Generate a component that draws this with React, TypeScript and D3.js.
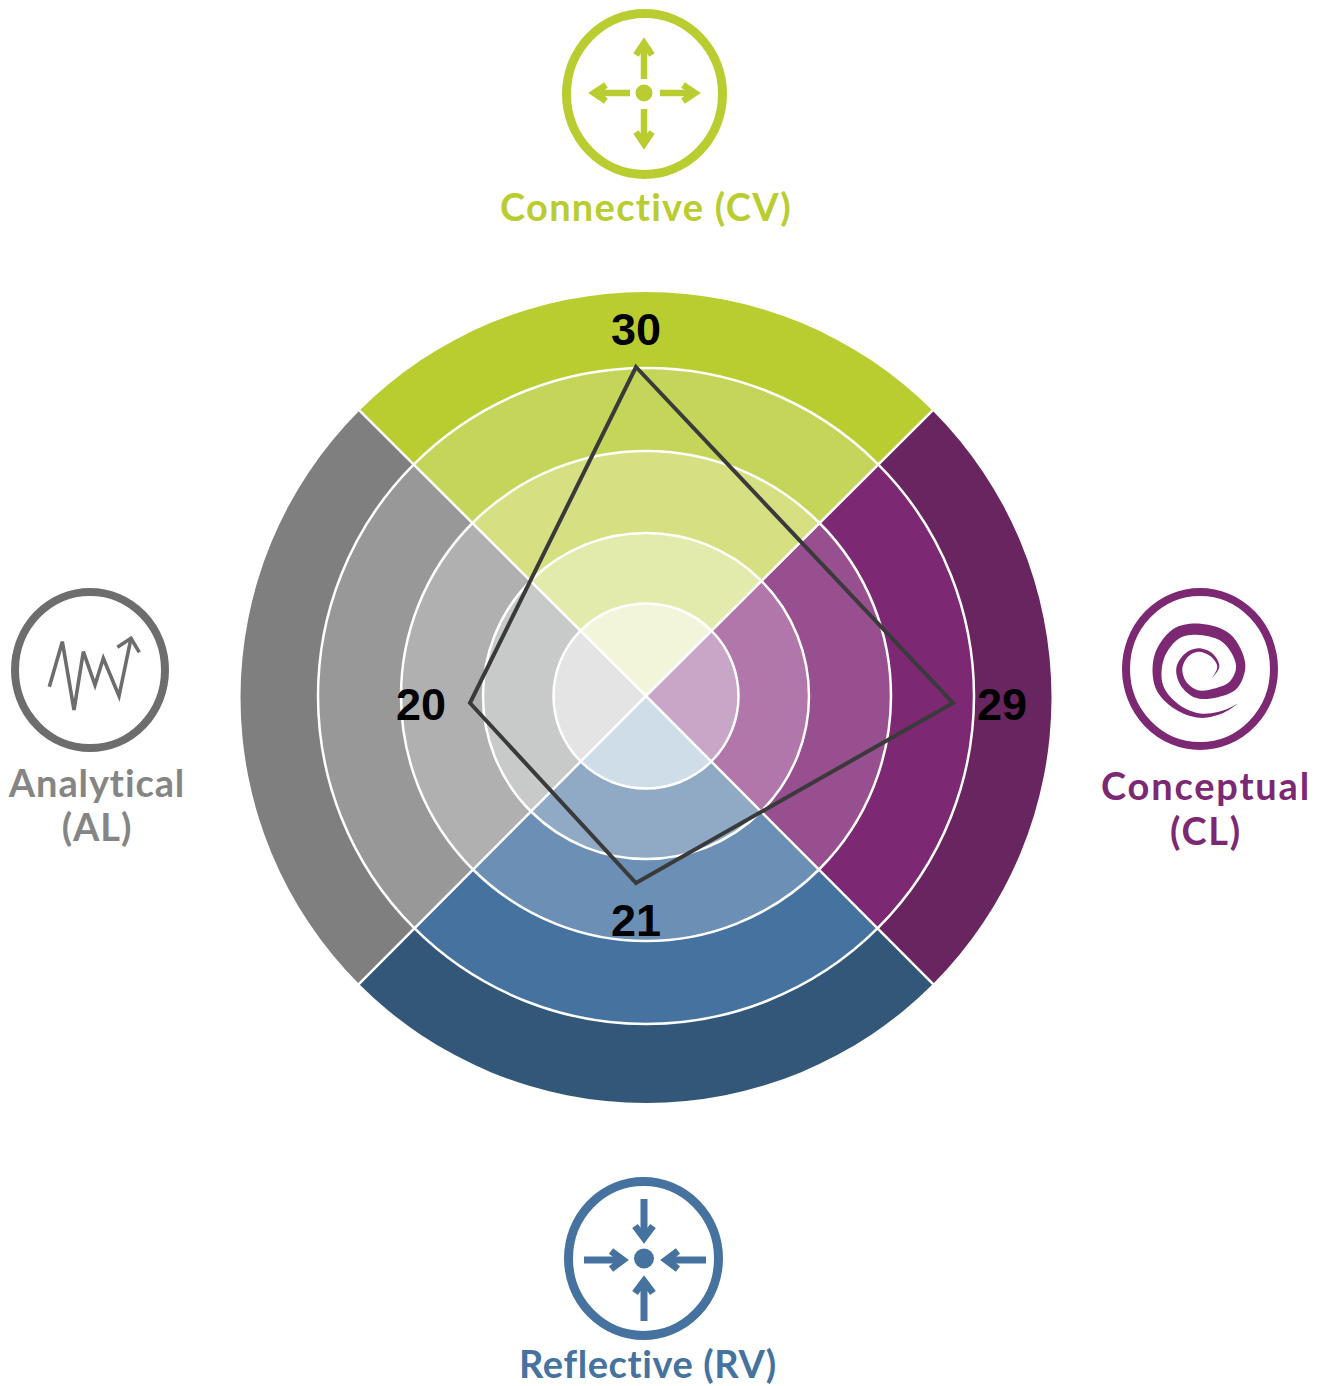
import React from "react";
import * as d3 from "d3";

const dimensions = ["Connective", "Conceptual", "Reflective", "Analytical"];
const dimensionLabels = [["Connective (CV)"], ["Conceptual", "(CL)"], ["Reflective (RV)"], ["Analytical", "(AL)"]];
const scores = [30, 29, 21, 20];
const ringStops = [0, 1, 2, 3, 4, 5];
const greenRamp = ["#f2f5da", "#e3ebac", "#d6e082", "#c5d55a", "#b9cc30"];
const purpleRamp = ["#c9a6c8", "#b177aa", "#974f8f", "#7d2873", "#682560"];
const blueRamp = ["#cfdde8", "#90aac5", "#6c90b5", "#46729f", "#335778"];
const grayRamp = ["#e4e4e4", "#c8c9c9", "#b0b0b0", "#989898", "#7f7f7f"];
const scoreStops = [20, 21, 29, 30];

const W = 1329, H = 1386;
const CX = 646, CY = 696;
const PX = 636, PY = 703;
const ramps = [greenRamp, purpleRamp, blueRamp, grayRamp];
const ringScale = d3.scaleLinear().domain(ringStops).range([0, 92.5, 163, 245, 328, 405.5]);
const scoreScale = d3.scaleLinear().domain(scoreStops).range([166, 180, 317, 336]);
const angleOf = (i: number) => (i * Math.PI) / 2;
const FONT = "Lato, 'Open Sans', sans-serif";
const NUM = "'Liberation Sans', Arial, sans-serif";
const G = "#b9cc30", P = "#7d2873", B = "#46729f", A = "#6d6d6d";

function Arrow({ x1, y1, x2, y2, c, w, hw, hl }: any) {
  const a = Math.atan2(y2 - y1, x2 - x1);
  const back = (s: number) => [
    x2 - hl * Math.cos(a) + s * hw * Math.sin(a),
    y2 - hl * Math.sin(a) - s * hw * Math.cos(a),
  ];
  const [ax, ay] = back(1), [bx, by] = back(-1);
  return (
    <g fill="none" stroke={c} strokeWidth={w}>
      <line x1={x1} y1={y1} x2={x2 - 2 * Math.cos(a)} y2={y2 - 2 * Math.sin(a)} />
      <polyline points={`${ax},${ay} ${x2},${y2} ${bx},${by}`} strokeLinejoin="miter" />
    </g>
  );
}

// Spiral glyph centreline (zoomed px): x, y, width
const spiralRaw = [
  [445, 400, 0], [400, 425, 7], [330, 437, 13], [260, 410, 18], [208, 350, 24], [208, 260, 30],
  [260, 190, 33], [330, 178, 34], [410, 205, 33], [452, 285, 28], [430, 345, 30], [380, 368, 28],
  [320, 372, 24], [280, 340, 20], [268, 295, 18], [290, 255, 13], [325, 240, 10], [365, 255, 10],
  [385, 290, 6], [365, 325, 0],
];

function spiralPath() {
  const pts = spiralRaw.map(([x, y, w]) => [1090 + x / 3, 570 + y / 3, w / 3]);
  const left: [number, number][] = [], right: [number, number][] = [];
  pts.forEach((p, i) => {
    const a = pts[Math.max(0, i - 1)], b = pts[Math.min(pts.length - 1, i + 1)];
    const dx = b[0] - a[0], dy = b[1] - a[1], l = Math.hypot(dx, dy) || 1;
    left.push([p[0] - (dy / l) * p[2] / 2, p[1] + (dx / l) * p[2] / 2]);
    right.push([p[0] + (dy / l) * p[2] / 2, p[1] - (dx / l) * p[2] / 2]);
  });
  const line = d3.line().curve(d3.curveCatmullRom);
  return (line(left) as string) + "L" + (line(right.reverse()) as string).slice(1) + "Z";
}

export default function App() {
  const arc = d3.arc<any>();
  const poly = scores.map((v, i) => {
    const a = angleOf(i);
    return [PX + scoreScale(v) * Math.sin(a), PY - scoreScale(v) * Math.cos(a)];
  });
  const labelPos = [
    { x: PX, y: poly[0][1] - 22 },
    { x: poly[1][0] + 49, y: PY + 17 },
    { x: PX, y: poly[2][1] + 53 },
    { x: poly[3][0] - 49, y: PY + 17 },
  ];
  return (
    <svg width={W} height={H} viewBox={`0 0 ${W} ${H}`} style={{ position: "absolute", left: 0, top: 0, background: "#fff" }}>
      {ramps.map((ramp, i) =>
        ramp.map((c, k) => (
          <path
            key={`${i}-${k}`}
            transform={`translate(${CX},${k === 4 ? CY + 1.5 : CY})`}
            fill={c}
            d={arc({
              innerRadius: k === 4 ? ringScale(ringStops[k]) - 4 : ringScale(ringStops[k]),
              outerRadius: ringScale(ringStops[k + 1]),
              startAngle: angleOf(i) - Math.PI / 4,
              endAngle: angleOf(i) + Math.PI / 4,
            }) as string}
          />
        )).reverse()
      )}
      {ramps.map((ramp, i) => (
        <path
          key={`r4-${i}`}
          transform={`translate(${CX},${CY})`}
          fill={ramp[3]}
          d={arc({
            innerRadius: ringScale(3),
            outerRadius: ringScale(4),
            startAngle: angleOf(i) - Math.PI / 4,
            endAngle: angleOf(i) + Math.PI / 4,
          }) as string}
        />
      ))}
      {ringStops.slice(1, 5).map((s) => (
        <circle key={s} cx={CX} cy={CY} r={ringScale(s)} fill="none" stroke="#fff" strokeWidth={2.5} />
      ))}
      {dimensions.map((d, i) => {
        const a = angleOf(i) + Math.PI / 4;
        const R = ringScale(5) + 2;
        return (
          <line key={d} x1={CX} y1={CY} x2={CX + R * Math.sin(a)} y2={CY + 1 - R * Math.cos(a)} stroke="#fff" strokeWidth={2.5} />
        );
      })}
      <path d={(d3.line()(poly as [number, number][]) as string) + "Z"} fill="none" stroke="#3a3a3a" strokeWidth={4} strokeLinejoin="miter" />
      {scores.map((v, i) => (
        <text key={i} x={labelPos[i].x} y={labelPos[i].y} textAnchor="middle" fontFamily={NUM} fontWeight={700} fontSize={45} fill="#000">
          {v}
        </text>
      ))}

      {/* Connective icon */}
      <ellipse cx={644.5} cy={94} rx={78} ry={80.5} fill="none" stroke={G} strokeWidth={9} />
      <circle cx={644} cy={93} r={8.5} fill={G} />
      <Arrow x1={644} y1={79} x2={644} y2={43} c={G} w={6.5} hw={8} hl={12} />
      <Arrow x1={644} y1={109} x2={644} y2={144} c={G} w={6.5} hw={8} hl={12} />
      <Arrow x1={630} y1={93} x2={594} y2={93} c={G} w={6.5} hw={8} hl={12} />
      <Arrow x1={660} y1={93} x2={695} y2={93} c={G} w={6.5} hw={8} hl={12} />

      {/* Reflective icon */}
      <ellipse cx={643.5} cy={1258.5} rx={75} ry={77} fill="none" stroke={B} strokeWidth={9} />
      <circle cx={644} cy={1258.5} r={10} fill={B} />
      <Arrow x1={644} y1={1199} x2={644} y2={1238} c={B} w={7} hw={9} hl={12} />
      <Arrow x1={644} y1={1321} x2={644} y2={1281} c={B} w={7} hw={9} hl={12} />
      <Arrow x1={584} y1={1260} x2={623} y2={1260} c={B} w={7} hw={9} hl={12} />
      <Arrow x1={706} y1={1260} x2={666} y2={1260} c={B} w={7} hw={9} hl={12} />

      {/* Analytical icon */}
      <ellipse cx={90} cy={670} rx={75} ry={78} fill="none" stroke={A} strokeWidth={8} />
      <polyline
        fill="none" stroke={A} strokeWidth={3.6} strokeLinejoin="miter"
        points={[[148, 350], [187, 215], [222, 420], [250, 245], [285, 345], [310, 265], [357, 378], [393, 205]].map(([x, y]) => `${x / 3},${570 + y / 3}`).join(" ")}
      />
      <polyline
        fill="none" stroke={A} strokeWidth={3.6}
        points={[[352, 232], [393, 205], [418, 247]].map(([x, y]) => `${x / 3},${570 + y / 3}`).join(" ")}
      />

      {/* Conceptual icon */}
      <ellipse cx={1200} cy={669} rx={74} ry={77} fill="none" stroke={P} strokeWidth={8} />
      <path d={spiralPath()} fill={P} />

      {/* Labels */}
      <g fontFamily={FONT} fontWeight={700} fontSize={38} textAnchor="middle">
        <text x={646} y={221} fill={G} letterSpacing={1.27}>{dimensionLabels[0][0]}</text>
        <text x={1206} y={800} fill={P} letterSpacing={1.8}>{dimensionLabels[1][0]}</text>
        <text x={1206} y={845} fill={P} letterSpacing={1.8}>{dimensionLabels[1][1]}</text>
        <text x={648} y={1378} fill={B} letterSpacing={0.6}>{dimensionLabels[2][0]}</text>
        <text x={97} y={797} fill="#858585" letterSpacing={0.9}>{dimensionLabels[3][0]}</text>
        <text x={97} y={841} fill="#858585" letterSpacing={0.9}>{dimensionLabels[3][1]}</text>
      </g>
    </svg>
  );
}
